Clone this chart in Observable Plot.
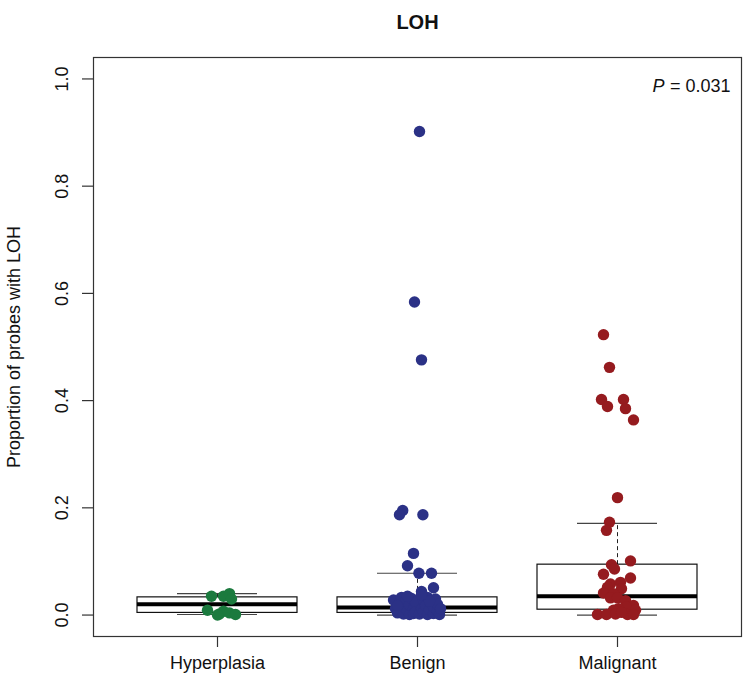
<!DOCTYPE html>
<html><head><meta charset="utf-8">
<script src="https://cdn.jsdelivr.net/npm/d3@7"></script>
<script src="https://cdn.jsdelivr.net/npm/@observablehq/plot@0.6"></script>
<style>body{margin:0;background:#fff}</style>
</head><body><div id="chart"></div>
<script>
// ---- data ----
const categories = ["Hyperplasia", "Benign", "Malignant"];
const groupColors = ["#1b7a3e", "#2b3186", "#951b1f"];
const boxQ1      = [0.004, 0.004, 0.010];
const boxMedian  = [0.020, 0.014, 0.035];
const boxQ3      = [0.033, 0.033, 0.094];
const whiskerLo  = [0.001, 0.000, 0.000];
const whiskerHi  = [0.040, 0.078, 0.171];
const yTicks = [0, 0.2, 0.4, 0.6, 0.8, 1.0];
const yTickLabels = ["0.0", "0.2", "0.4", "0.6", "0.8", "1.0"];
const pLabel = "P";
const pValueText = "= 0.031";
const chartTitle = "LOH";
const yLabel = "Proportion of probes with LOH";

// jittered x position (category units) and proportion for each sample
const hyperX = [0.97, 1.03, 1.06, 1.07, 0.95, 1.01, 1.03, 1.06, 1.09, 1.00];
const hyperY = [0.035, 0.035, 0.040, 0.030, 0.009, 0.002, 0.007, 0.004, 0.001, 0.000];

const benignX = [2.01, 1.985, 2.02, 1.926, 1.91, 2.027, 1.98, 1.95, 2.007, 2.07, 2.08, 2.02,
  1.88, 1.89, 1.90, 1.91, 1.92, 1.93, 1.93, 1.94, 1.95, 1.96, 1.96, 1.97, 1.98, 1.98, 1.99, 1.95, 1.90, 1.99,
  2.01, 2.02, 2.03, 2.03, 2.04, 2.05, 2.05, 2.06, 2.07, 2.08, 2.08, 2.09, 2.10, 2.10, 2.11, 2.115, 2.06, 2.02];
const benignY = [0.902, 0.584, 0.476, 0.195, 0.187, 0.187, 0.115, 0.092, 0.078, 0.078, 0.051, 0.044,
  0.028, 0.012, 0.004, 0.022, 0.033, 0.002, 0.015, 0.026, 0.008, 0.001, 0.019, 0.031, 0.011, 0.003, 0.024, 0.035, 0.018, 0.006,
  0.002, 0.012, 0.028, 0.006, 0.018, 0.001, 0.033, 0.010, 0.022, 0.003, 0.015, 0.030, 0.007, 0.020, 0.001, 0.012, 0.026, 0.038];

const malignantX = [2.93, 2.96, 2.92, 2.95, 3.03, 3.04, 3.08, 3.00, 2.96, 2.945, 2.97, 3.065, 2.985, 2.93,
  3.065, 2.965, 3.015, 2.95, 3.02, 2.93, 2.98, 2.965, 3.00, 3.04, 3.08, 3.045, 3.005, 2.98, 3.09, 2.90,
  2.945, 2.99, 3.05, 3.08, 3.02];
const malignantY = [0.523, 0.462, 0.402, 0.389, 0.402, 0.385, 0.364, 0.219, 0.173, 0.158, 0.094, 0.101, 0.086, 0.076,
  0.069, 0.058, 0.061, 0.052, 0.049, 0.041, 0.040, 0.032, 0.032, 0.027, 0.018, 0.015, 0.012, 0.009, 0.009, 0.001,
  0.001, 0.002, 0.001, 0.001, 0.005];

// ---- tables ----
const boxes = categories.map((c, k) => ({
  cat: c, i: k + 1, q1: boxQ1[k], median: boxMedian[k], q3: boxQ3[k], lo: whiskerLo[k], hi: whiskerHi[k]
}));
const points = [
  ...hyperX.map((x, k) => ({x, y: hyperY[k], group: categories[0]})),
  ...benignX.map((x, k) => ({x, y: benignY[k], group: categories[1]})),
  ...malignantX.map((x, k) => ({x, y: malignantY[k], group: categories[2]}))
];
const yTickData = yTicks.map((v, k) => ({v, label: yTickLabels[k]}));

const font = "Liberation Sans, Arial, Helvetica, sans-serif";
const halfBox = 0.4, halfCap = 0.2;

const chart = Plot.plot({
  width: 744,
  height: 684,
  marginTop: 57,
  marginBottom: 48,
  marginLeft: 93,
  marginRight: 3,
  style: {fontFamily: font, background: "#fff", overflow: "visible"},
  x: {type: "linear", domain: [0.38, 3.62], axis: null},
  y: {type: "linear", domain: [-0.04, 1.04], axis: null},
  color: {domain: categories, range: groupColors},
  marks: [
    Plot.frame({stroke: "#333", strokeWidth: 1.2}),
    // whiskers
    Plot.ruleX(boxes, {x: "i", y1: "q3", y2: "hi", stroke: "#222", strokeDasharray: "4,3"}),
    Plot.ruleX(boxes, {x: "i", y1: "lo", y2: "q1", stroke: "#222", strokeDasharray: "4,3"}),
    Plot.ruleY(boxes, {y: "hi", x1: d => d.i - halfCap, x2: d => d.i + halfCap, stroke: "#444", strokeWidth: 1.2}),
    Plot.ruleY(boxes, {y: "lo", x1: d => d.i - halfCap, x2: d => d.i + halfCap, stroke: "#444", strokeWidth: 1.2}),
    // boxes
    Plot.rect(boxes, {x1: d => d.i - halfBox, x2: d => d.i + halfBox, y1: "q1", y2: "q3", fill: "white", stroke: "#111", strokeWidth: 1.2}),
    Plot.ruleY(boxes, {y: "median", x1: d => d.i - halfBox, x2: d => d.i + halfBox, stroke: "#000", strokeWidth: 4}),
    // points
    Plot.dot(points, {x: "x", y: "y", r: 5.7, fill: "group", stroke: null}),
    // axes
    Plot.axisX({ticks: [1, 2, 3], tickSize: 11, tickPadding: 9, tickFormat: i => categories[i - 1],
      fontSize: 18, stroke: "#333", fill: "#111", strokeWidth: 1.2}),
    Plot.axisY({ticks: yTicks, tickSize: 11, tickFormat: () => "", stroke: "#333", strokeWidth: 1.2}),
    Plot.text(yTickData, {y: "v", text: "label", frameAnchor: "left", rotate: -90, dx: -31,
      fontSize: 18, fill: "#111", textAnchor: "middle"}),
    Plot.text([yLabel], {frameAnchor: "left", rotate: -90, dx: -79, fontSize: 18, fill: "#111", textAnchor: "middle"}),
    Plot.text([chartTitle], {frameAnchor: "top", dy: -43, fontSize: 20, fontWeight: "bold", fill: "#111"}),
    Plot.text([pValueText], {frameAnchor: "top-right", dx: -11, dy: 22, textAnchor: "end", fontSize: 18, fill: "#111"}),
    Plot.text([pLabel], {frameAnchor: "top-right", dx: -77, dy: 22, textAnchor: "end", fontSize: 18, fontStyle: "italic", fill: "#111"})
  ]
});
document.getElementById("chart").appendChild(chart);
</script>
</body></html>
